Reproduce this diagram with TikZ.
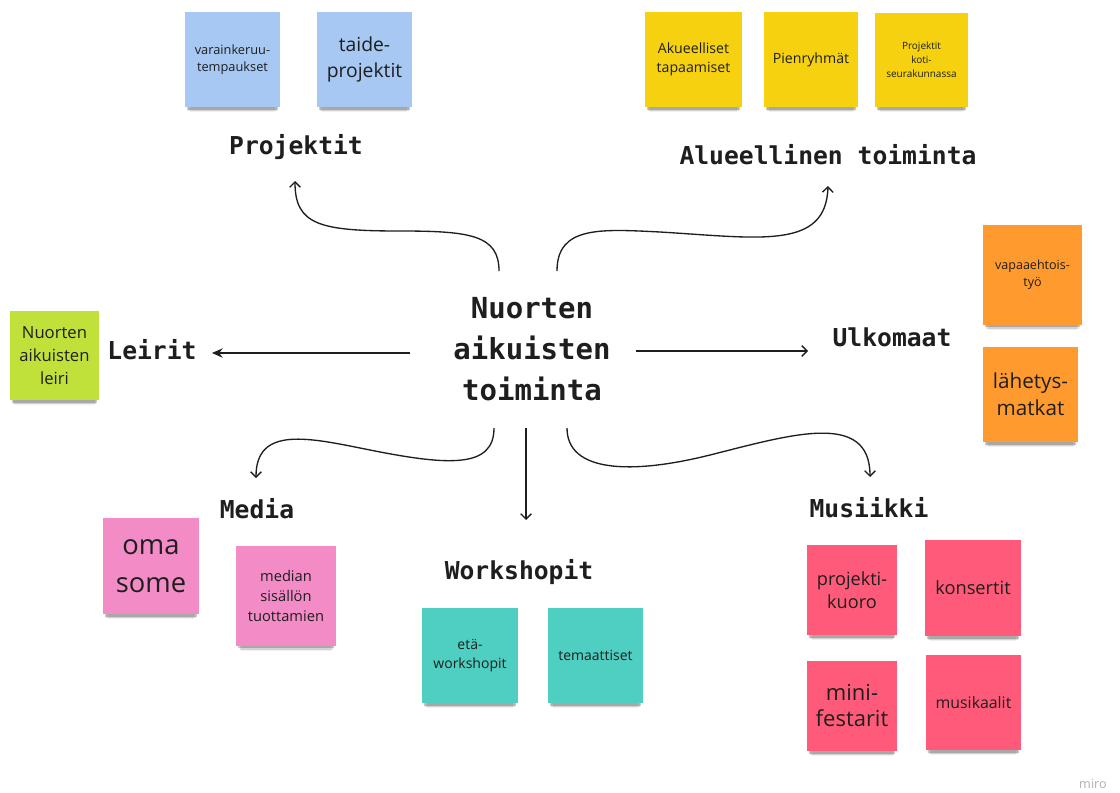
\documentclass[tikz,border=0pt]{standalone}
\usepackage{fontspec}
\setsansfont{Open Sans}
\setmonofont{DejaVu Sans Mono}
\usetikzlibrary{arrows.meta,shadows}
\definecolor{stBlue}{HTML}{A6C8F2}
\definecolor{stYellow}{HTML}{F5D10F}
\definecolor{stOrange}{HTML}{FF9B2E}
\definecolor{stGreen}{HTML}{C0E03A}
\definecolor{stPink}{HTML}{F38BC6}
\definecolor{stTeal}{HTML}{4ECFC2}
\definecolor{stRed}{HTML}{FF5A79}
\definecolor{inkText}{HTML}{1E1E1E}
\definecolor{miroGray}{HTML}{B0B0B0}
\begin{document}
\begin{tikzpicture}[x=0.75pt,y=-0.75pt,
  sticky/.style 2 args={rectangle, inner sep=1pt, align=center, text=inkText,
    minimum width=#1*0.75pt, minimum height=#2*0.75pt,
    general shadow={fill=black, opacity=.06, shadow yshift=-8pt, shadow scale=.9},
    general shadow={fill=black, opacity=.12, shadow yshift=-6pt, shadow scale=.93},
    general shadow={fill=black, opacity=.2, shadow yshift=-3.5pt, shadow scale=.96}},
  fs/.style 2 args={font={\sffamily\fontsize{#1}{#2}\selectfont}},
  lbl/.style={text=inkText, inner sep=1pt, font={\ttfamily\bfseries\fontsize{18.5pt}{22pt}\selectfont}},
  hubstyle/.style={text=inkText, align=center, inner sep=1pt, font={\ttfamily\bfseries\fontsize{21.75pt}{30.75pt}\selectfont}},
  link/.style={line width=1pt, draw=inkText, -{Straight Barb[length=4pt,width=8pt]}},
  linkfill/.style={line width=1pt, draw=inkText, -{Stealth[length=8pt,width=7pt]}}
]
\fill[white] (0,0) rectangle (1120,792);
\useasboundingbox (0,0) rectangle (1120,792);

% hub
\node[hubstyle] (hub) at (532,349) {Nuorten\\aikuisten\\toiminta};

% labels
\node[lbl] (projektit) at (296,147) {Projektit};
\node[lbl] (alue) at (828,155) {Alueellinen toiminta};
\node[lbl] (leirit) at (152,350) {Leirit};
\node[lbl] (ulko) at (892,337) {Ulkomaat};
\node[lbl] (media) at (257,509) {Media};
\node[lbl] (works) at (519,572) {Workshopit};
\node[lbl] (musa) at (869,508) {Musiikki};

% stickies
\node[sticky={95}{95}, fill=stBlue, fs={9.6pt}{12.5pt}] (b1) at (232.5,59.5) {varainkeruu-\\tempaukset};
\node[sticky={95}{95}, fill=stBlue, fs={14.5pt}{19pt}] (b2) at (364.5,59.5) {taide-\\projektit};
\node[sticky={97}{95}, fill=stYellow, fs={10.6pt}{14pt}] (y1) at (693.5,59.5) {Akueelliset\\tapaamiset};
\node[sticky={94}{95}, fill=stYellow, fs={10.6pt}{14pt}] (y2) at (811,59.5) {Pienryhmät};
\node[sticky={93}{94}, fill=stYellow, fs={7.5pt}{10.5pt}] (y3) at (921.5,60) {Projektit\\koti-\\seurakunnassa};
\node[sticky={89}{89}, fill=stGreen, fs={12.5pt}{17pt}] (g1) at (54.5,355.5) {Nuorten\\aikuisten\\leiri};
\node[sticky={99}{100}, fill=stOrange, fs={9.4pt}{12.5pt}] (o1) at (1032.5,275) {vapaaehtois-\\työ};
\node[sticky={95}{95}, fill=stOrange, fs={15.5pt}{20pt}] (o2) at (1030.5,394.5) {lähetys-\\matkat};
\node[sticky={96}{96}, fill=stPink, fs={20.5pt}{28.5pt}] (p1) at (151,566) {oma\\some};
\node[sticky={100}{100}, fill=stPink, fs={11pt}{15pt}] (p2) at (286,596) {median\\sisällön\\tuottamien};
\node[sticky={96}{95}, fill=stTeal, fs={10.5pt}{14pt}] (t1) at (470,655.5) {etä-\\workshopit};
\node[sticky={95}{95}, fill=stTeal, fs={10.5pt}{14pt}] (t2) at (595.5,655.5) {temaattiset};
\node[sticky={90}{90}, fill=stRed, fs={13.6pt}{17.5pt}] (r1) at (852,590) {projekti-\\kuoro};
\node[sticky={96}{96}, fill=stRed, fs={13.7pt}{17pt}] (r2) at (973,588) {konsertit};
\node[sticky={90}{90}, fill=stRed, fs={16.5pt}{19.5pt}] (r3) at (852,706) {mini-\\festarit};
\node[sticky={95}{95}, fill=stRed, fs={11.9pt}{15pt}] (r4) at (973.5,702.5) {musikaalit};

% connector end points
\coordinate (pS) at (499,271); \coordinate (pE) at (295,181);
\coordinate (aS) at (557,271); \coordinate (aE) at (828,186);
\coordinate (lS) at (410,353); \coordinate (lE) at (212,353);
\coordinate (uS) at (636,351); \coordinate (uE) at (808,351);
\coordinate (mS) at (494,428); \coordinate (mE) at (256,478);
\coordinate (wS) at (526,428); \coordinate (wE) at (526,520);
\coordinate (kS) at (567,428); \coordinate (kE) at (870,477);

% connectors
\draw[link] (pS) .. controls (499,235) and (470,231) .. (400,231)
                 .. controls (320,231) and (295,225) .. (pE);
\draw[link] (aS) .. controls (557,226) and (600,229) .. (660,232)
                 .. controls (760,238) and (826,250) .. (aE);
\draw[linkfill] (lS) -- (lE);
\draw[link] (uS) -- (uE);
\draw[link] (mS) .. controls (494,468) and (450,466) .. (370,450)
                 .. controls (310,438) and (256,425) .. (mE);
\draw[link] (wS) -- (wE);
\draw[link] (kS) .. controls (567,472) and (630,475) .. (710,455)
                 .. controls (790,435) and (870,410) .. (kE);

% watermark
\node[text=miroGray, inner sep=0pt, font={\sffamily\fontsize{9.5pt}{11pt}\selectfont}] (miro) at (1093,784) {miro};
\end{tikzpicture}
\end{document}
